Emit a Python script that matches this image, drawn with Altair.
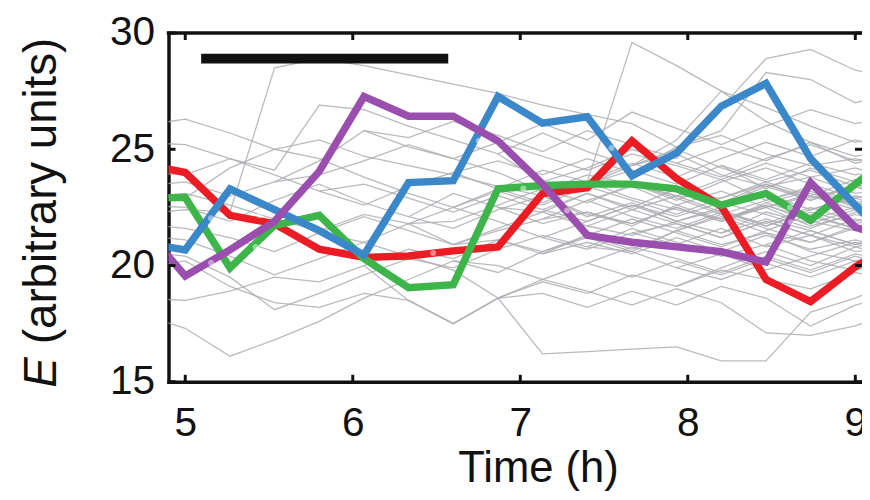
import altair as alt
import pandas as pd

# ---------------- data ----------------
times = [4.733, 5.0, 5.267, 5.533, 5.8, 6.067, 6.333, 6.6, 6.867, 7.133,
         7.4, 7.667, 7.933, 8.2, 8.467, 8.733, 9.0, 9.267]

red = [24.4, 24.0, 22.16, 21.8, 20.7, 20.35, 20.41, 20.63, 20.8, 23.1,
       23.35, 25.36, 23.74, 22.55, 19.4, 18.45, 19.94, 21.1]
blue = [21.0, 20.67, 23.3, 22.4, 21.5, 20.45, 23.57, 23.65, 27.27, 26.12,
        26.4, 23.86, 24.84, 26.85, 27.83, 24.6, 22.6, 20.7]
green = [22.9, 22.93, 19.9, 21.73, 22.16, 20.3, 19.05, 19.18, 23.3, 23.44,
         23.5, 23.5, 23.3, 22.6, 23.1, 21.95, 23.5, 25.0]
purple = [21.8, 19.55, 20.67, 21.9, 24.05, 27.27, 26.42, 26.42, 25.36, 23.5,
          21.3, 21.0, 20.8, 20.6, 20.15, 23.57, 21.65, 21.0]

# pale markers on the coloured traces
dot_cell = ["blue", "blue", "blue", "red", "red", "green", "green", "green",
            "purple", "purple", "purple"]
dot_t = [5.154, 6.752, 7.545, 5.444, 6.48, 5.42, 7.018, 8.61, 5.154, 7.279, 8.616]
dot_E = [22.03, 25.36, 25.06, 22.16, 20.54, 20.8, 23.31, 22.5, 20.12, 22.37, 21.86]

N = None
grey = {
    "g01": [26.0, 26.3, 25.7, 25.0, 25.4, 24.7, 24.3, 23.9, 23.4, 23.0, 23.6, 22.9, 22.4, 22.0, 22.6, 21.9, 21.5, 21.9],
    "g02": [22.2, 22.4, 22.3, 28.5, 28.9, 28.6, 28.2, 27.8, 27.4, 26.9, 26.5, 26.1, 25.1, 25.6, 24.8, 24.3, 24.6, 24.0],
    "g03": [25.3, 25.2, 24.6, 24.1, 26.9, 26.7, 26.0, 25.4, 24.8, 25.7, 24.9, 24.3, 24.8, 23.9, 23.4, 23.8, 23.1, 23.4],
    "g04": [23.4, 23.6, 23.0, 23.6, 24.5, 25.8, 25.1, 24.6, 24.0, 23.2, 23.9, 23.5, 23.0, 23.7, 22.8, 23.3, 22.6, 22.9],
    "g05": [23.0, 22.9, 24.2, 25.0, 24.6, 23.8, 23.1, 22.5, 23.3, 24.1, 23.6, 29.6, 28.6, 27.5, 26.2, 25.3, 24.4, 24.8],
    "g06": [22.6, 22.5, 21.9, 22.8, 23.5, 22.7, 22.1, 21.6, 22.4, 23.0, 22.2, 21.8, 22.5, 21.9, 22.7, 22.1, 21.6, 22.0],
    "g07": [21.8, 21.6, 21.2, 20.6, 21.4, 22.1, 21.5, 20.9, 21.6, 22.3, 21.7, 22.4, 21.8, 21.2, 21.9, 21.3, 20.8, 21.2],
    "g08": [21.3, 21.1, 20.4, 19.6, 20.3, 21.0, 21.8, 22.5, 21.9, 21.2, 20.7, 21.4, 20.9, 21.6, 20.8, 21.3, 20.6, 20.9],
    "g09": [18.6, 18.5, 18.9, 19.5, 19.3, 20.0, 20.7, 20.3, 21.1, 20.5, 21.3, 20.7, 21.5, 20.9, 21.4, 20.6, 20.2, 20.5],
    "g10": [17.9, 17.3, 16.1, 16.8, 17.6, 18.6, 19.4, 20.2, 19.7, 20.6, 21.2, 20.6, 21.5, 22.1, 21.4, 21.0, 21.6, 21.3],
    "g11": [24.0, 23.9, 24.6, 23.9, 23.2, 22.6, 23.4, 24.0, 23.3, 22.7, 23.5, 24.3, 25.0, 24.2, 23.6, 24.1, 23.4, 23.7],
    "g12": [22.9, 23.1, 22.6, 22.0, 21.5, 22.2, 21.8, 20.9, 21.5, 22.0, 22.8, 23.4, 22.6, 22.0, 22.5, 21.7, 22.2, 21.8],
    "g13": [19.9, 20.2, 19.1, 18.4, 18.2, 18.8, 18.5, 17.5, 18.6, 19.3, 18.8, 19.6, 19.1, 19.8, 19.4, 19.0, 19.7, 19.3],
    "g14": [20.6, 20.4, 19.5, 18.1, 18.8, 19.6, 20.3, 19.9, 20.7, 21.3, 20.8, 21.6, 21.0, 20.4, 20.9, 20.2, 19.8, 20.3],
    "g15": [N, N, N, 23.6, 23.9, 24.5, 25.2, 24.6, 25.3, 24.7, 24.1, 24.8, 24.3, 23.7, 24.4, 23.8, 24.2, 23.6],
    "g16": [N, N, N, N, 23.2, 23.5, 22.9, 22.3, 23.0, 22.4, 21.9, 22.6, 22.1, 22.7, 22.2, 21.6, 22.3, 21.9],
    "g17": [N, N, N, N, 21.4, 21.0, 20.4, 19.8, 18.6, 16.2, 16.3, 16.4, 16.5, 15.9, 15.9, 18.0, 18.6, 19.4],
    "g18": [N, N, N, N, N, 20.0, 18.5, 17.5, 18.6, 19.4, 18.9, 18.3, 19.0, 18.4, 17.1, 17.0, 17.4, 18.1],
    "g19": [N, N, N, N, N, 25.8, 25.5, 26.2, 25.6, 24.9, 25.8, 25.2, 24.6, 26.8, 28.9, 29.3, 28.4, 28.0],
    "g20": [N, N, N, N, N, N, 22.1, 23.1, 22.5, 21.8, 22.3, 21.7, 22.6, 23.2, 22.5, 23.0, 22.4, 22.8],
    "g21": [N, N, N, N, N, N, 21.8, 21.9, 22.6, 23.3, 22.7, 23.5, 22.9, 22.2, 22.8, 23.4, 22.7, 23.1],
    "g22": [N, N, N, N, N, N, N, 24.0, 24.5, 23.9, 24.6, 24.0, 25.1, 25.8, 28.3, 28.0, 27.0, 27.5],
    "g23": [N, N, N, N, N, N, N, 20.2, 20.0, 19.4, 20.1, 20.8, 20.3, 19.7, 20.4, 19.8, 20.5, 20.1],
    "g24": [N, N, N, N, N, N, N, 20.9, 21.1, 20.6, 21.3, 22.0, 21.4, 20.8, 21.5, 22.2, 21.6, 22.0],
    "g25": [N, N, N, N, N, N, N, N, 22.5, 22.3, 23.1, 22.5, 23.3, 22.7, 23.5, 22.9, 23.4, 23.0],
    "g26": [N, N, N, N, N, N, N, N, 24.8, 23.6, 24.2, 25.0, 24.4, 23.8, 24.6, 25.2, 24.5, 24.9],
    "g27": [N, N, N, N, N, N, N, N, 18.6, 18.8, 18.2, 18.9, 18.3, 19.1, 18.6, 17.4, 18.3, 18.8],
    "g28": [N, N, N, N, N, N, N, N, N, 22.0, 22.3, 21.8, 22.5, 21.9, 22.6, 22.0, 22.5, 22.1],
    "g29": [N, N, N, N, N, N, N, N, N, 23.0, 22.1, 22.7, 21.9, 22.4, 21.7, 22.3, 21.8, 22.2],
    "g30": [N, N, N, N, N, N, N, N, N, 20.5, 21.0, 20.5, 21.2, 20.6, 21.3, 20.7, 21.1, 20.6],
    "g31": [N, N, N, N, N, N, N, N, N, N, 23.5, 24.1, 23.5, 24.3, 23.7, 24.4, 23.9, 24.2],
    "g32": [N, N, N, N, N, N, N, N, N, N, 21.7, 21.3, 21.9, 21.4, 22.0, 21.5, 20.9, 21.4],
    "g33": [N, N, N, N, N, N, N, N, N, N, 20.8, 20.6, 19.9, 20.5, 19.8, 20.4, 21.0, 20.5],
    "g34": [N, N, N, N, N, N, N, N, N, N, N, 23.5, 23.0, 22.9, 23.6, 23.0, 23.7, 23.2],
    "g35": [N, N, N, N, N, N, N, N, N, N, N, 21.4, 21.8, 21.2, 21.9, 21.3, 22.0, 21.5],
    "g36": [N, N, N, N, N, N, N, N, N, N, N, 24.3, 25.4, 27.5, 26.8, 26.0, 25.3, 25.8],
    "g37": [N, N, N, N, N, N, N, N, N, N, N, N, 19.9, 19.4, 20.1, 19.5, 20.2, 19.8],
    "g38": [N, N, N, N, N, N, N, N, N, N, N, N, 23.3, 22.6, 23.4, 22.8, 23.5, 23.0],
    "g39": [N, N, N, N, N, N, N, N, N, N, N, N, N, 21.4, 22.3, 21.8, 22.4, 21.9],
    "g40": [N, N, N, N, N, N, N, N, N, N, N, N, N, 24.3, 23.3, 24.2, 23.6, 24.0],
    "g41": [N, N, N, N, N, N, N, N, N, N, N, N, N, N, 22.7, 23.2, 22.5, 23.0],
    "g42": [N, N, N, N, N, N, N, N, N, N, N, N, N, N, 20.9, 21.5, 20.9, 21.3],
    "g43": [N, N, N, N, N, N, N, N, N, N, N, N, 24.4, 25.1, 24.5, 25.3, 24.7, 25.0],
    "g44": [N, N, N, N, N, N, N, N, N, N, 20.1, 19.5, 20.2, 19.6, 20.3, 19.7, 20.4, 19.9],
    "g45": [N, N, N, N, N, N, N, N, N, 22.4, 23.1, 22.4, 23.0, 22.3, 21.8, 22.5, 21.9, 22.4],
    "g46": [N, N, N, N, N, N, N, N, 25.3, 26.1, 25.4, 26.6, 25.9, 25.2, 26.0, 26.7, 26.1, 26.5],
    "g47": [N, N, N, N, N, N, N, N, N, 21.2, 21.9, 22.6, 21.9, 22.5, 23.1, 22.4, 22.9, 22.3],
    "g48": [N, N, N, N, N, N, N, N, N, N, 22.8, 22.1, 21.6, 22.3, 21.7, 22.4, 23.0, 22.5],
    "g49": [N, N, N, N, N, N, N, N, N, N, N, 23.5, 22.8, 23.6, 24.2, 23.5, 22.9, 23.3],
    "g50": [N, N, N, N, N, N, N, N, N, N, N, N, 21.5, 22.2, 21.6, 21.0, 21.7, 21.2],
    "g51": [N, N, N, N, N, N, N, N, N, N, N, N, N, 21.9, 22.5, 23.1, 22.6, 23.2],
    "g52": [N, N, N, N, N, N, N, 22.5, 23.2, 22.6, 23.4, 22.8, 22.2, 22.9, 23.5, 22.8, 23.4, 22.7],
    "g53": [N, N, N, N, N, N, N, N, N, N, 23.6, 24.4, 23.8, 24.6, 25.3, 24.7, 25.4, 24.8],
    "g54": [N, N, N, N, N, N, N, N, N, N, N, N, 19.1, 19.9, 20.6, 20.0, 20.8, 20.3],
}

x_ticks = [5, 6, 7, 8, 9]
y_ticks = [15, 20, 25, 30]
x_domain = [4.9, 9.04]
y_domain = [15, 30]
bar_t = [5.095, 6.57]
bar_E = [28.9]

# ---------------- tables ----------------
grey_rows = []
for name, vals in grey.items():
    for t, v in zip(times, vals):
        if v is not None:
            grey_rows.append({"cell": name, "t": t, "E": v})
grey_df = pd.DataFrame(grey_rows)

col_df = {}
for name, vals in [("red", red), ("blue", blue), ("green", green), ("purple", purple)]:
    col_df[name] = pd.DataFrame({"t": times, "E": vals})
dots_df = pd.DataFrame({"cell": dot_cell, "t": dot_t, "E": dot_E})

colors = {"red": "#ec1c24", "blue": "#3a87c9", "green": "#3db54a", "purple": "#9a4fae"}
FONT = "Liberation Sans"
BLACK = "#111111"

xs = alt.Scale(domain=x_domain, nice=False, zero=False)
ys = alt.Scale(domain=y_domain, nice=False, zero=False)

x_axis = alt.Axis(values=x_ticks, format="d", ticks=False, grid=False, domain=True,
                  domainColor=BLACK, domainWidth=3.5, domainCap="square",
                  labelFont=FONT, labelFontSize=41, labelColor=BLACK, labelPadding=22,
                  labelFlush=False, labelOverlap=False,
                  title="Time (h)", titleFont=FONT, titleFontSize=44, titleFontWeight="normal",
                  titleColor=BLACK, titleX=373, titleY=101, titleAlign="center",
                  titleBaseline="alphabetic", titleAnchor="start")
y_axis = alt.Axis(values=y_ticks, format="d", ticks=False, grid=False, domain=True,
                  domainColor=BLACK, domainWidth=3.5, domainCap="square",
                  labelFont=FONT, labelFontSize=41, labelColor=BLACK, labelPadding=14,
                  labelFlush=False, labelOverlap=False, title=None)

X = alt.X("t:Q", scale=xs, axis=x_axis)
Y = alt.Y("E:Q", scale=ys, axis=y_axis)

grey_layer = alt.Chart(grey_df).mark_line(
    clip=True, color="#abaeb3", strokeWidth=1.3, opacity=0.85
).encode(x=X, y=Y, detail="cell:N")

layers = [grey_layer]
for name in ["red", "green", "blue", "purple"]:
    layers.append(
        alt.Chart(col_df[name]).mark_line(
            clip=True, color=colors[name], strokeWidth=7.5, strokeJoin="miter"
        ).encode(x="t:Q", y="E:Q")
    )

dots_layer = alt.Chart(dots_df).mark_circle(
    clip=True, color="white", opacity=0.45, size=36
).encode(x="t:Q", y="E:Q")
layers.append(dots_layer)

# black scale bar
bar_df = pd.DataFrame({"t1": [bar_t[0]], "t2": [bar_t[1]], "E": bar_E})
layers.append(
    alt.Chart(bar_df).mark_rule(color=BLACK, strokeWidth=10, strokeCap="butt").encode(
        x="t1:Q", x2="t2:Q", y="E:Q")
)

# top frame line
frame_df = pd.DataFrame({"t1": [x_domain[0]], "t2": [x_domain[1]], "E": [y_domain[1]]})
layers.append(
    alt.Chart(frame_df).mark_rule(color=BLACK, strokeWidth=3.5, strokeCap="square").encode(
        x="t1:Q", x2="t2:Q", y="E:Q")
)

# inward tick marks
xt_df = pd.DataFrame({"t": x_ticks})
yt_df = pd.DataFrame({"E": y_ticks})
tick_w = 3
layers.append(alt.Chart(xt_df).mark_rule(color=BLACK, strokeWidth=tick_w).encode(
    x="t:Q", y=alt.datum(15), y2=alt.datum(15.3)))
layers.append(alt.Chart(xt_df).mark_rule(color=BLACK, strokeWidth=tick_w).encode(
    x="t:Q", y=alt.datum(30), y2=alt.datum(29.7)))
layers.append(alt.Chart(yt_df).mark_rule(color=BLACK, strokeWidth=tick_w).encode(
    y="E:Q", x=alt.datum(4.9), x2=alt.datum(4.942)))
layers.append(alt.Chart(yt_df).mark_rule(color=BLACK, strokeWidth=tick_w).encode(
    y="E:Q", x=alt.datum(9.04), x2=alt.datum(8.998)))

# y-axis title: italic E + "(arbitrary units)"
ttl_e = pd.DataFrame({"s": ["E"]})
ttl_r = pd.DataFrame({"s": ["(arbitrary units)"]})
layers.append(alt.Chart(ttl_e).mark_text(
    angle=270, align="left", baseline="alphabetic", font=FONT, fontSize=46,
    fontStyle="italic", color=BLACK).encode(
    x=alt.value(-114), y=alt.value(358), text="s:N"))
layers.append(alt.Chart(ttl_r).mark_text(
    angle=270, align="left", baseline="alphabetic", font=FONT, fontSize=46,
    color=BLACK).encode(
    x=alt.value(-114), y=alt.value(314), text="s:N"))

chart = alt.layer(*layers).properties(
    width=700, height=352,
    autosize=alt.AutoSizeParams(type="none"),
    padding={"left": 162, "top": 23, "right": 0, "bottom": 109},
).configure_view(stroke=None).configure(background="white")

chart.save("out.html", embed_options={"renderer": "svg", "actions": False})
